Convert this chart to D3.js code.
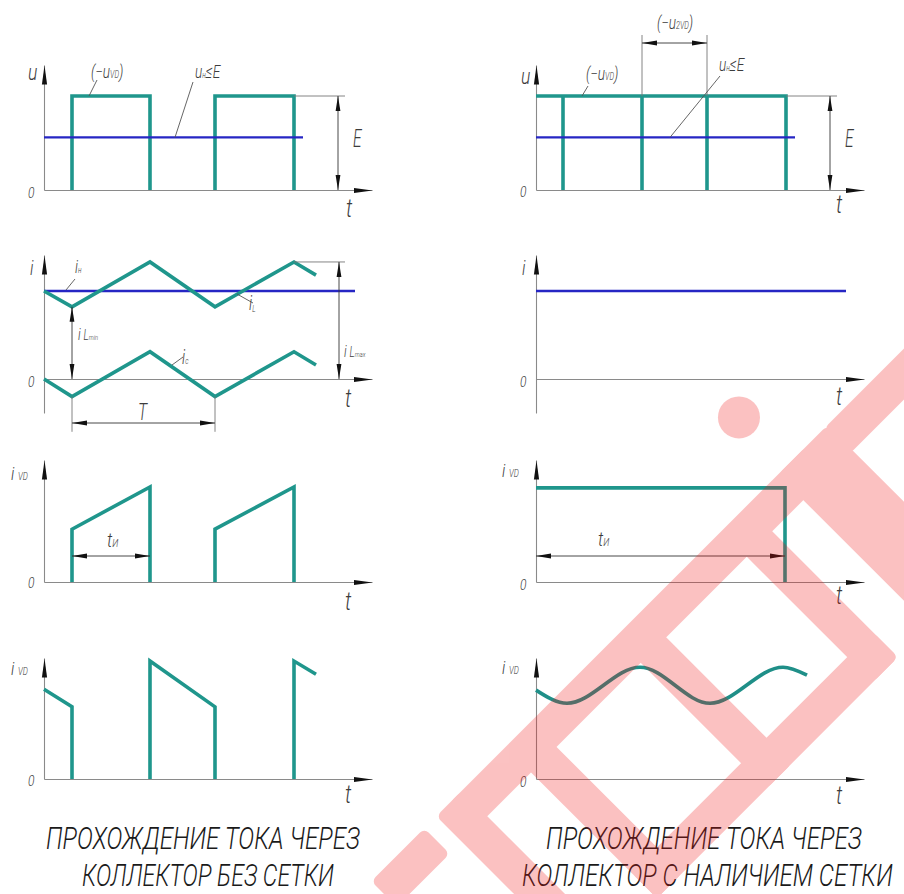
<!DOCTYPE html>
<html>
<head>
<meta charset="utf-8">
<script src="https://cdn.jsdelivr.net/npm/d3@7"></script>
<style>
  body { margin: 0; background: #fff; }
  svg { display: block; }
  .lbl { font-family: Roboto, "DejaVu Sans", sans-serif; font-style: italic; font-weight: 300; fill: #3c3c3c; }
</style>
</head>
<body>
<svg id="chart" width="904" height="894"></svg>
<script>
// ---- data (time in drawing units, amplitudes relative to E / i_H) ----
// row 1: collector voltage
const uLeftT = [[28, 28, 106, 106], [171, 171, 250, 250]];
const uLeftV = [[0, 1, 1, 0], [0, 1, 1, 0]];
const uRightT = [0, 250, 250];
const uRightV = [1, 1, 0];
const uRightStubs = [27, 106, 171];
const uLoad = 0.56;
const uLoadEnd = [259, 259];

// row 2: inductor / capacitor / load current
const iT = [0, 28, 106, 171, 250, 272];
const iLV = [1.0, 0.82, 1.33, 0.82, 1.33, 1.18];
const iCV = [0, -0.2, 0.31, -0.2, 0.31, 0.16];
const iLoad = 1.0;
const iLoadEnd = [311, 310];

// row 3: diode current, on-state
const vdOnLeftT = [[28, 28, 106, 106], [171, 171, 250, 250]];
const vdOnLeftV = [[0, 0.6, 1.08, 0], [0, 0.6, 1.08, 0]];
const vdOnRightT = [0, 249, 249];
const vdOnRightV = [1.07, 1.07, 0];

// row 4: diode current, off-state
const vdOffLeftT = [[0, 28, 28], [106, 106, 171, 171], [250, 250, 272]];
const vdOffLeftV = [[1.02, 0.82, 0], [0, 1.34, 0.82, 0], [0, 1.34, 1.19]];
const vdOffRightT = [0, 31, 104, 174, 247, 271];
const vdOffRightV = [1.01, 0.86, 1.27, 0.86, 1.27, 1.18];

const captionLeft = ['ПРОХОЖДЕНИЕ ТОКА ЧЕРЕЗ', 'КОЛЛЕКТОР БЕЗ СЕТКИ'];
const captionRight = ['ПРОХОЖДЕНИЕ ТОКА ЧЕРЕЗ', 'КОЛЛЕКТОР С НАЛИЧИЕМ СЕТКИ'];

// ---- layout ----
const TEAL = '#1f968c', BLUE = '#2626c4', AXIS = '#8a8a8a', DIM = '#333';
const colX = [44, 536];
const rows = [
  { base: 190, unit: 94, tip: 65, bottom: 190 },
  { base: 379, unit: 88, tip: 255, bottom: 413 },
  { base: 582, unit: 88, tip: 460, bottom: 582 },
  { base: 779, unit: 88, tip: 658, bottom: 779 }
];

const svg = d3.select('#chart');
const defs = svg.append('defs');
defs.append('marker').attr('id', 'axArr')
  .attr('markerUnits', 'userSpaceOnUse').attr('markerWidth', 20).attr('markerHeight', 8)
  .attr('viewBox', '0 -4 20 8').attr('refX', 19).attr('refY', 0).attr('orient', 'auto')
  .append('path').attr('d', 'M0,-2.6L19,0L0,2.6Z').attr('fill', '#111');
defs.append('marker').attr('id', 'dimArr')
  .attr('markerUnits', 'userSpaceOnUse').attr('markerWidth', 16).attr('markerHeight', 8)
  .attr('viewBox', '0 -4 16 8').attr('refX', 15).attr('refY', 0).attr('orient', 'auto-start-reverse')
  .append('path').attr('d', 'M0,-2.4L15,0L0,2.4Z').attr('fill', '#111');

const xs = colX.map(x0 => d3.scaleLinear().domain([0, 328]).range([x0, x0 + 328]));
const ys = rows.map(r => d3.scaleLinear()
  .domain([(r.base - r.bottom) / r.unit, (r.base - r.tip) / r.unit])
  .range([r.bottom, r.tip]));

const zip = (a, b) => a.map((d, i) => [d, b[i]]);

// axes
rows.forEach((r, ri) => {
  xs.forEach(x => {
    const y = ys[ri];
    const gx = svg.append('g').attr('transform', `translate(0,${r.base})`)
      .call(d3.axisBottom(x).tickValues([]).tickSizeOuter(0));
    gx.select('.domain').attr('stroke', AXIS).attr('stroke-width', 1.1).attr('marker-end', 'url(#axArr)');
    const gy = svg.append('g').attr('transform', `translate(${x.range()[0]},0)`)
      .call(d3.axisLeft(y).tickValues([]).tickSizeOuter(0));
    gy.select('.domain').attr('stroke', AXIS).attr('stroke-width', 1.1).attr('marker-end', 'url(#axArr)');
  });
});

function path(pts, ri, ci, color, w, curve) {
  const x = xs[ci], y = ys[ri];
  const line = d3.line().x(d => x(d[0])).y(d => y(d[1]));
  if (curve) line.curve(curve);
  svg.append('path').attr('d', line(pts)).attr('fill', 'none')
    .attr('stroke', color).attr('stroke-width', w)
    .attr('stroke-linejoin', 'miter').attr('stroke-linecap', 'butt');
}

function thin(x1, y1, x2, y2, color = '#666', w = 0.9) {
  svg.append('line').attr('x1', x1).attr('y1', y1).attr('x2', x2).attr('y2', y2)
    .attr('stroke', color).attr('stroke-width', w);
}

function dim(x1, y1, x2, y2) {
  svg.append('line').attr('x1', x1).attr('y1', y1).attr('x2', x2).attr('y2', y2)
    .attr('stroke', DIM).attr('stroke-width', 0.9)
    .attr('marker-start', 'url(#dimArr)').attr('marker-end', 'url(#dimArr)');
}

// parts: [text, size, dy]
function label(x, y, parts, sx = 0.72) {
  const t = svg.append('text').attr('class', 'lbl')
    .attr('transform', `translate(${x},${y}) scale(${sx},1)`);
  parts.forEach(([s, size, dy]) => {
    t.append('tspan').attr('font-size', size).attr('dy', dy || 0).text(s);
  });
}

// ---- row 1 : voltage ----
uLeftT.forEach((ts, k) => path(zip(ts, uLeftV[k]), 0, 0, TEAL, 3.6));
path([[0, uLoad], [uLoadEnd[0], uLoad]], 0, 0, BLUE, 2.4);
path(zip(uRightT, uRightV), 0, 1, TEAL, 3.6);
uRightStubs.forEach(t => path([[t, 0], [t, 1]], 0, 1, TEAL, 3.6));
path([[0, uLoad], [uLoadEnd[1], uLoad]], 0, 1, BLUE, 2.4);

// ---- row 2 : currents ----
path([[0, iLoad], [iLoadEnd[0], iLoad]], 1, 0, BLUE, 2.4);
path(zip(iT, iLV), 1, 0, TEAL, 3.6);
path(zip(iT, iCV), 1, 0, TEAL, 3.6);
path([[0, iLoad], [iLoadEnd[1], iLoad]], 1, 1, BLUE, 2.4);

// ---- row 3 ----
vdOnLeftT.forEach((ts, k) => path(zip(ts, vdOnLeftV[k]), 2, 0, TEAL, 3.6));
path(zip(vdOnRightT, vdOnRightV), 2, 1, TEAL, 3.6);

// ---- row 4 ----
vdOffLeftT.forEach((ts, k) => path(zip(ts, vdOffLeftV[k]), 3, 0, TEAL, 3.6));
path(zip(vdOffRightT, vdOffRightV), 3, 1, '#1f8f88', 3.6, d3.curveMonotoneX);

// ---- dimensions & annotations ----
{
  // row 1 left
  const x = xs[0], y = ys[0];
  thin(x(250), y(1), x(301), y(1), '#777');
  dim(x(294), y(1), x(294), y(0));
  label(x(309), y(0.46), [['E', 25]], 0.62);
  thin(97, 80, 89, 96, '#555');
  thin(193, 82, 175, y(uLoad), '#555');
  label(91, 78, [['(−u', 19], ['VD', 10], [')', 19]]);
  label(195, 78, [['u', 19], ['н', 9], ['≤E', 19]]);
  label(28, 80, [['u', 22]], 0.8);
  label(28, 198, [['0', 15]], 0.8);
  label(346, 217, [['t', 25]], 0.8);
}
{
  // row 1 right
  const x = xs[1], y = ys[0];
  thin(x(250), y(1), x(301), y(1), '#777');
  dim(x(294), y(1), x(294), y(0));
  label(x(309), y(0.46), [['E', 25]], 0.62);
  thin(x(106), y(1), x(106), 35, '#777');
  thin(x(171), y(1), x(171), 35, '#777');
  dim(x(106), 43, x(171), 43);
  label(657, 29, [['(−u', 19], ['2VD', 10], [')', 19]]);
  thin(588, 86, 582, 96, '#555');
  label(586, 80, [['(−u', 19], ['VD', 10], [')', 19]]);
  thin(720, 76, 670, y(uLoad), '#555');
  label(719, 71, [['u', 19], ['н', 9], ['≤E', 19]]);
  label(521, 84, [['u', 22]], 0.8);
  label(520, 197, [['0', 15]], 0.8);
  label(836, 213, [['t', 25]], 0.8);
}
{
  // row 2 left
  const x = xs[0], y = ys[1];
  thin(x(250), y(1.33), x(301), y(1.33), '#777');
  dim(x(295), y(1.33), x(295), y(0));
  dim(x(28), y(0.82), x(28), y(0));
  thin(x(28), y(-0.2), x(28), y(-0.6), '#777');
  thin(x(171), y(-0.2), x(171), y(-0.6), '#777');
  dim(x(28), y(-0.5), x(171), y(-0.5));
  thin(75, 279, 66, 290, '#555');
  thin(253, 303, 237, 294, '#555');
  thin(183, 357, 172, 365, '#555');
  label(75, 273, [['i', 19], ['н', 9, 0]]);
  label(249, 310, [['i', 20], ['L', 9, 2]]);
  label(182, 364, [['i', 20], ['c', 9, 0]]);
  label(78, 340, [['i ', 17], ['L', 14], ['min', 8]]);
  label(344, 357, [['i ', 17], ['L', 14], ['max', 8]]);
  label(138, 420, [['T', 23]], 0.68);
  label(30, 275, [['i', 20]], 0.8);
  label(28, 387, [['0', 15]], 0.8);
  label(345, 407, [['t', 25]], 0.8);
}
{
  // row 2 right
  label(522, 275, [['i', 20]], 0.8);
  label(520, 387, [['0', 15]], 0.8);
  label(836, 405, [['t', 25]], 0.8);
}
{
  // row 3
  const xl = xs[0], xr = xs[1];
  dim(xl(28), 556, xl(106), 556);
  label(107, 547, [['t', 21], ['И', 11]], 0.8);
  dim(xr(0), 556, xr(249), 556);
  label(598, 546, [['t', 21], ['И', 11]], 0.8);
  label(11, 480, [['i ', 19], ['VD', 10]], 0.8);
  label(502, 477, [['i ', 19], ['VD', 10]], 0.8);
  label(28, 588, [['0', 15]], 0.8);
  label(520, 590, [['0', 15]], 0.8);
  label(345, 610, [['t', 25]], 0.8);
  label(836, 604, [['t', 25]], 0.8);
}
{
  // row 4
  label(11, 675, [['i ', 19], ['VD', 10]], 0.8);
  label(502, 674, [['i ', 19], ['VD', 10]], 0.8);
  label(28, 786, [['0', 15]], 0.8);
  label(520, 787, [['0', 15]], 0.8);
  label(345, 803, [['t', 25]], 0.8);
  label(836, 804, [['t', 25]], 0.8);
}

// captions: squeeze each line horizontally to its measured width
function caption(lines, boxes) {
  lines.forEach((s, i) => {
    const [x0, x1, yb] = boxes[i];
    const t = svg.append('text').attr('class', 'lbl')
      .attr('font-size', 31).style('fill', '#1a1a1a').text(s);
    const w = t.node().getComputedTextLength();
    t.attr('transform', `translate(${x0},${yb}) scale(${(x1 - x0) / w},1)`);
  });
}
caption(captionLeft, [[46, 360, 849], [82, 334, 886]]);
caption(captionRight, [[546, 862, 849], [522, 893, 886]]);

// watermark overlay (rotated frame: u along the diagonal, v across it)
const wm = svg.append('g').attr('opacity', 0.26)
  .attr('transform', 'translate(384,894) rotate(-45)').attr('fill', '#f01414');
[[0, -18, 75, 36], [110, -18, 505, 36], [640, -18, 120, 36],
 [92, -18, 36, 160], [575, -18, 70, 200],
 [190, 0, 36, 196], [345, 0, 36, 196], [495, 0, 36, 196], [190, 160, 341, 36]]
  .forEach(([u, v, w, h]) => wm.append('rect').attr('x', u).attr('y', v).attr('width', w).attr('height', h).attr('rx', 6));
wm.append('circle').attr('cx', 588).attr('cy', -86).attr('r', 21);
</script>
</body>
</html>
